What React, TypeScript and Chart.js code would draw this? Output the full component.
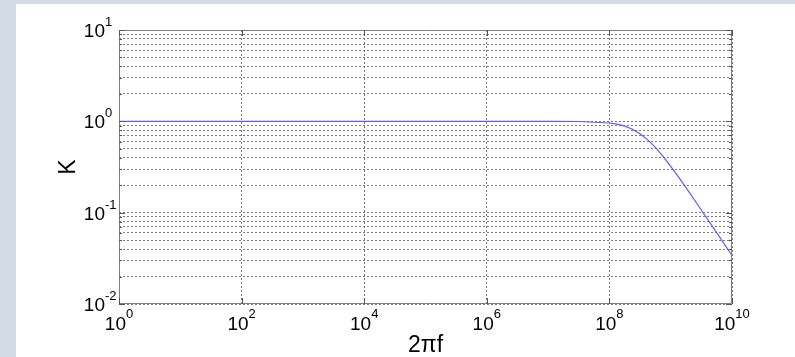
import React, { useEffect, useRef } from "react";
import { Chart, registerables } from "chart.js";

Chart.register(...registerables);

// angular frequency 2πf (rad/s) and read-off gain K
const omega = [1, 1e7, 3.16e7, 1e8, 1.33e8, 1.78e8, 2.37e8, 3.16e8, 4.22e8, 5.62e8, 7.5e8, 1e9, 1.33e9, 1.78e9, 3.16e9, 5.62e9, 1e10];
const gainK = [1, 1, 0.996, 0.959, 0.931, 0.886, 0.82, 0.732, 0.627, 0.518, 0.413, 0.322, 0.248, 0.188, 0.107, 0.0604, 0.034];

// grid / tick positions
const xGridValues = [1, 1e2, 1e4, 1e6, 1e8, 1e10];
const xLabelExponents = ["0", "2", "4", "6", "8", "10"];
const yGridValues = [
  0.01, 0.02, 0.03, 0.04, 0.05, 0.06, 0.07, 0.08, 0.09,
  0.1, 0.2, 0.3, 0.4, 0.5, 0.6, 0.7, 0.8, 0.9,
  1, 2, 3, 4, 5, 6, 7, 8, 9, 10,
];
const yMajorValues = [0.01, 0.1, 1, 10];
const yLabelExponents = ["-2", "-1", "0", "1"];
const xTitle = "2πf";
const yTitle = "K";

const FONT = '"Liberation Sans", Arial, sans-serif';
const BASE = 19;
const SUP = 13;

const framePlugin = {
  id: "matlabFrame",
  afterDraw(chart: any) {
    const { ctx, chartArea } = chart;
    const { left, right, top, bottom } = chartArea;
    const xs = chart.scales.x;
    const ys = chart.scales.y;
    ctx.save();
    // box
    ctx.strokeStyle = "#7f7f7f";
    ctx.lineWidth = 1;
    ctx.beginPath();
    ctx.rect(Math.round(left) + 0.5, Math.round(top) + 0.5, Math.round(right - left) - 1, Math.round(bottom - top) - 1);
    ctx.stroke();
    // tick marks
    ctx.strokeStyle = "#555";
    ctx.beginPath();
    yGridValues.forEach((v) => {
      const y = Math.round(ys.getPixelForValue(v)) + 0.5;
      const len = yMajorValues.includes(v) ? 6 : 3;
      ctx.moveTo(left, y);
      ctx.lineTo(left + len, y);
      ctx.moveTo(right, y);
      ctx.lineTo(right - len, y);
    });
    xGridValues.forEach((v) => {
      const x = Math.round(xs.getPixelForValue(v)) + 0.5;
      ctx.moveTo(x, bottom);
      ctx.lineTo(x, bottom - 6);
      ctx.moveTo(x, top);
      ctx.lineTo(x, top + 6);
    });
    ctx.stroke();

    ctx.fillStyle = "#000";
    // x tick labels
    xGridValues.forEach((v, i) => {
      const x = xs.getPixelForValue(v);
      ctx.font = `${BASE}px ${FONT}`;
      const wBase = ctx.measureText("10").width;
      ctx.font = `${SUP}px ${FONT}`;
      const wSup = ctx.measureText(xLabelExponents[i]).width;
      const start = x - (wBase + wSup) / 2;
      ctx.textAlign = "left";
      ctx.textBaseline = "alphabetic";
      ctx.font = `${BASE}px ${FONT}`;
      ctx.fillText("10", start, bottom + 26);
      ctx.font = `${SUP}px ${FONT}`;
      ctx.fillText(xLabelExponents[i], start + wBase, bottom + 14);
    });
    // y tick labels
    yMajorValues.forEach((v, i) => {
      const y = ys.getPixelForValue(v);
      ctx.textBaseline = "alphabetic";
      ctx.font = `${BASE}px ${FONT}`;
      ctx.textAlign = "right";
      ctx.fillText("10", left - 14, y + 7);
      ctx.font = `${SUP}px ${FONT}`;
      ctx.textAlign = "left";
      ctx.fillText(yLabelExponents[i], left - 14, y - 4);
    });
    // axis titles
    ctx.font = `23px ${FONT}`;
    ctx.textAlign = "center";
    ctx.textBaseline = "alphabetic";
    ctx.fillText(xTitle, (left + right) / 2, bottom + 48);
    ctx.save();
    ctx.translate(left - 44, (top + bottom) / 2);
    ctx.rotate(-Math.PI / 2);
    ctx.fillText(yTitle, 0, 0);
    ctx.restore();
    ctx.restore();
  },
};

export default function App() {
  const ref = useRef<HTMLCanvasElement | null>(null);
  useEffect(() => {
    document.body.style.margin = "0";
    const canvas = ref.current!;
    const chart = new Chart(canvas, {
      type: "line",
      data: {
        datasets: [
          {
            data: omega.map((w, i) => ({ x: w, y: gainK[i] })),
            borderColor: "#5c5cff",
            borderWidth: 1.2,
            pointRadius: 0,
            fill: false,
            tension: 0,
          },
        ],
      },
      options: {
        animation: false,
        responsive: false,
        devicePixelRatio: 1,
        layout: { padding: { left: 103, top: 26, right: 63, bottom: 53 } },
        plugins: { legend: { display: false }, tooltip: { enabled: false } },
        scales: {
          x: {
            type: "logarithmic",
            min: 1,
            max: 1e10,
            afterBuildTicks: (s: any) => {
              s.ticks = xGridValues.map((v) => ({ value: v }));
            },
            afterFit: (s: any) => {
              s.height = 0;
            },
            ticks: { display: false },
            grid: { color: "#7a7a7a", lineWidth: 1, drawTicks: false },
            border: { display: false, dash: [2, 2] },
          },
          y: {
            type: "logarithmic",
            min: 0.01,
            max: 10,
            afterBuildTicks: (s: any) => {
              s.ticks = yGridValues.map((v) => ({ value: v }));
            },
            afterFit: (s: any) => {
              s.width = 0;
            },
            ticks: { display: false },
            grid: { color: "#7a7a7a", lineWidth: 1, drawTicks: false },
            border: { display: false, dash: [2, 2] },
          },
        },
      } as any,
      plugins: [framePlugin],
    });
    return () => chart.destroy();
  }, []);
  return (
    <div style={{ position: "fixed", left: 0, top: 0, width: 795, height: 357, background: "#d3dce4" }}>
      <canvas
        ref={ref}
        width={779}
        height={353}
        style={{ position: "absolute", left: 16, top: 4, width: 779, height: 353, background: "#fff" }}
      />
    </div>
  );
}
